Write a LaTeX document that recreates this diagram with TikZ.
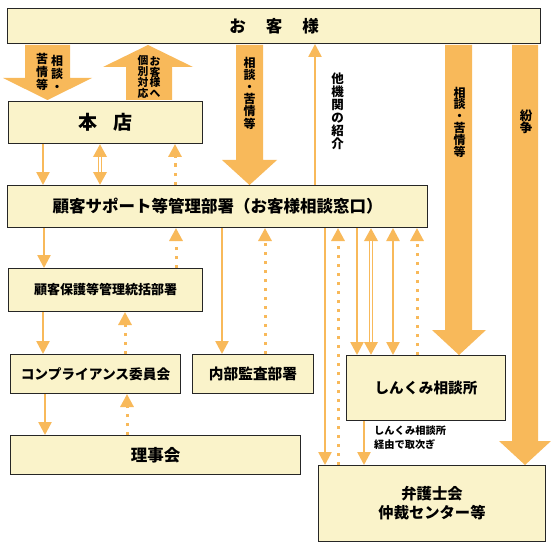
\documentclass[tikz,border=0pt]{standalone}
\usepackage{fontspec}
\setmainfont{Noto Sans CJK JP}
\usetikzlibrary{arrows.meta}
\definecolor{arr}{HTML}{F8B95A}
\definecolor{boxfill}{HTML}{FAF3CA}
\begin{document}
\begin{tikzpicture}[x=1pt,y=-1pt,
  box/.style={draw=black!85, line width=1pt, fill=boxfill, anchor=north west, inner sep=0pt, align=center},
  fat/.style={fill=arr, draw=none},
  thin/.style={draw=arr, line width=2.5pt, -{Triangle[width=13pt,length=13pt]}},
  dots/.style={draw=arr, line width=3pt, dash pattern=on 3.5pt off 5.5pt, -{Triangle[width=13pt,length=13pt]}},
  both/.style={draw=arr, line width=2.5pt, {Triangle[width=13pt,length=13pt]}-{Triangle[width=13pt,length=13pt]}},
  dbl/.style={draw=arr, line width=4.5pt, {Triangle[width=13pt,length=13pt]}-{Triangle[width=13pt,length=13pt]}},
  dblin/.style={draw=white, line width=1.5pt, shorten <=13pt, shorten >=13pt},
  vt/.style={align=center, inner sep=0pt, text=black}
]
\useasboundingbox (0,0) rectangle (550,556);
\fill[white] (0,0) rectangle (550,556);

% fat arrows
\fill[fat] (25,45) -- (70,45) -- (70,78) -- (92,78) -- (47.5,100) -- (3,78) -- (25,78) -- cycle;
\fill[fat] (126,100) -- (172,100) -- (172,67) -- (193,67) -- (148,45) -- (103,67) -- (126,67) -- cycle;
\fill[fat] (236,45) -- (263,45) -- (263,160) -- (277,160) -- (249.5,185) -- (222,160) -- (236,160) -- cycle;
\fill[fat] (445,45) -- (472,45) -- (472,330) -- (486,330) -- (459,355) -- (432,330) -- (445,330) -- cycle;
\fill[fat] (512,45) -- (538,45) -- (538,441) -- (551,441) -- (525,465) -- (499,441) -- (512,441) -- cycle;

% arrow labels
\node[vt, font=\bfseries\fontsize{12}{13}\selectfont] (l1a) at (57,73) {相\\談\\・};
\node[vt, font=\bfseries\fontsize{12}{13}\selectfont] (l1b) at (42,72) {苦\\情\\等};
\node[vt, font=\bfseries\fontsize{10.8}{10.8}\selectfont] (l2a) at (155,77) {お\\客\\様\\へ};
\node[vt, font=\bfseries\fontsize{10.8}{10.8}\selectfont] (l2b) at (143,77) {個\\別\\対\\応};
\node[vt, font=\bfseries\fontsize{12}{12.2}\selectfont] (l3) at (249.5,93) {相\\談\\・\\苦\\情\\等};
\node[vt, font=\bfseries\fontsize{12.5}{13}\selectfont] (l4) at (337.5,111) {他\\機\\関\\の\\紹\\介};
\node[vt, font=\bfseries\fontsize{12}{11.8}\selectfont] (l5) at (459.5,122) {相\\談\\・\\苦\\情\\等};
\node[vt, font=\bfseries\fontsize{12.5}{12.5}\selectfont] (l6) at (526,122) {紛\\争};

% boxes
\node[box, minimum width=533pt, minimum height=35pt, font=\bfseries\fontsize{16.5}{18}\selectfont] (top) at (7,8) {お\hspace{20pt}客\hspace{20pt}様};
\node[box, minimum width=194pt, minimum height=42pt, font=\bfseries\fontsize{19}{21}\selectfont] (honten) at (8,101) {本\hspace{16pt}店};
\node[box, minimum width=420pt, minimum height=42pt, font=\bfseries\fontsize{16.5}{18}\selectfont] (support) at (7,185) {顧客サポート等管理部署（お客様相談窓口）};
\node[box, minimum width=194pt, minimum height=43pt, font=\bfseries\fontsize{13}{15}\selectfont] (hogo) at (8,268) {顧客保護等管理統括部署};
\node[box, minimum width=170pt, minimum height=39pt, font=\bfseries\fontsize{13.7}{15}\selectfont] (comp) at (10,354) {コンプライアンス委員会};
\node[box, minimum width=121pt, minimum height=39pt, font=\bfseries\fontsize{14.7}{16}\selectfont] (naibu) at (192,354) {内部監査部署};
\node[box, minimum width=159pt, minimum height=65pt, font=\bfseries\fontsize{14.6}{16}\selectfont] (shinkumi) at (346,355) {しんくみ相談所};
\node[box, minimum width=290pt, minimum height=39pt, font=\bfseries\fontsize{16.5}{18}\selectfont] (riji) at (10,435) {理事会};
\node[box, minimum width=227pt, minimum height=76pt, font=\bfseries\fontsize{15.3}{19}\selectfont] (bengo) at (318,465) {弁護士会\\仲裁センター等};

\node[anchor=north west, inner sep=0pt, align=left, font=\bfseries\fontsize{10.2}{14}\selectfont] (note) at (374,426) {しんくみ相談所\\経由で取次ぎ};

% thin connectors
\draw[thin] (honten.south -| 43,0) -- (support.north -| 43,0);
\draw[dbl] (honten.south -| 100,0) -- (support.north -| 100,0);
\draw[dblin] (honten.south -| 100,0) -- (support.north -| 100,0);
\draw[dots] (support.north -| 175,0) -- (honten.south -| 175,0);

\draw[thin] (support.south -| 44,0) -- (hogo.north -| 44,0);
\draw[dots] (hogo.north -| 176,0) -- (support.south -| 176,0);
\draw[thin] (support.south -| 222,0) -- (naibu.north -| 222,0);
\draw[dots] (naibu.north -| 265,0) -- (support.south -| 265,0);

\draw[thin] (hogo.south -| 43,0) -- (comp.north -| 43,0);
\draw[dots] (comp.north -| 125,0) -- (hogo.south -| 125,0);
\draw[thin] (comp.south -| 45,0) -- (riji.north -| 45,0);
\draw[dots] (riji.north -| 127,0) -- (comp.south -| 127,0);

\draw[thin] (support.north -| 315,0) -- (top.south -| 315,0);

\draw[thin] (support.south -| 325,0) -- (bengo.north -| 325,0);
\draw[dots] (bengo.north -| 338,0) -- (support.south -| 338,0);
\draw[thin] (support.south -| 357,0) -- (shinkumi.north -| 357,0);
\draw[dbl] (support.south -| 371,0) -- (shinkumi.north -| 371,0);
\draw[dblin] (support.south -| 371,0) -- (shinkumi.north -| 371,0);
\draw[both] (support.south -| 393,0) -- (shinkumi.north -| 393,0);
\draw[dots] (shinkumi.north -| 417,0) -- (support.south -| 417,0);
\draw[thin] (shinkumi.south -| 364,0) -- (bengo.north -| 364,0);
\end{tikzpicture}
\end{document}
